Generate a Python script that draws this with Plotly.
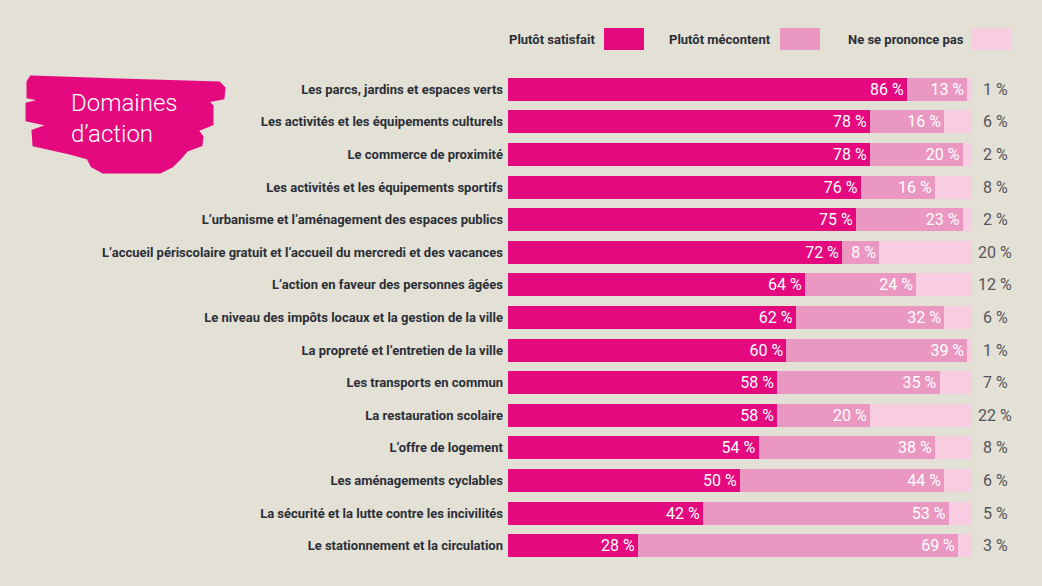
import plotly.graph_objects as go

categories = [
    "Les parcs, jardins et espaces verts",
    "Les activités et les équipements culturels",
    "Le commerce de proximité",
    "Les activités et les équipements sportifs",
    "L’urbanisme et l’aménagement des espaces publics",
    "L’accueil périscolaire gratuit et l’accueil du mercredi et des vacances",
    "L’action en faveur des personnes âgées",
    "Le niveau des impôts locaux et la gestion de la ville",
    "La propreté et l’entretien de la ville",
    "Les transports en commun",
    "La restauration scolaire",
    "L’offre de logement",
    "Les aménagements cyclables",
    "La sécurité et la lutte contre les incivilités",
    "Le stationnement et la circulation",
]
satisfait = [86, 78, 78, 76, 75, 72, 64, 62, 60, 58, 58, 54, 50, 42, 28]
mecontent = [13, 16, 20, 16, 23, 8, 24, 32, 39, 35, 20, 38, 44, 53, 69]
ne_se_prononce = [1, 6, 2, 8, 2, 20, 12, 6, 1, 7, 22, 8, 6, 5, 3]
series_names = ["Plutôt satisfait", "Plutôt mécontent", "Ne se prononce pas"]
title_lines = ["Domaines", "d’action"]
colors = ["#E5097F", "#EA98C2", "#F8CDE2"]

BG = "#E3E0D5"
FONT = "Roboto, Liberation Sans, sans-serif"
W, H = 1042, 586
ML, MR, MT, MB = 508, 70, 73, 24

fig = go.Figure()
for name, vals, col, show_text in zip(series_names, [satisfait, mecontent, ne_se_prononce], colors, [True, True, False]):
    fig.add_trace(go.Bar(
        y=categories, x=vals, name=name, orientation="h",
        marker=dict(color=col, line=dict(width=0)),
        width=0.7,
        text=[f"{v} %" for v in vals] if show_text else None,
        textposition="inside" if show_text else "none",
        insidetextanchor="end",
        textfont=dict(color="white", size=16, family=FONT),
        hoverinfo="x+y",
    ))

plot_w = W - ML - MR
plot_h = H - MT - MB
def px_x(p):
    return (p - ML) / plot_w
def px_y(p):
    return (H - MB - p) / plot_h

annotations = []
for cat, v in zip(categories, ne_se_prononce):
    annotations.append(dict(x=px_x(995), y=cat, xref="paper", yref="y", text=f"{v} %", showarrow=False,
                            xanchor="center", font=dict(size=16, color="#555559", family=FONT)))

# Legend (text before swatch)
legend_items = [(597, 604), (773, 780), (966, 971)]
shapes = []
for (text_end, sw_start), name, col in zip(legend_items, series_names, colors):
    annotations.append(dict(x=px_x(text_end), y=px_y(39), xref="paper", yref="paper", text=f"<b>{name}</b>",
                            showarrow=False, xanchor="right", yanchor="middle",
                            font=dict(size=13, color="#2B2F37", family=FONT)))
    shapes.append(dict(type="rect", xref="paper", yref="paper",
                       x0=px_x(sw_start), x1=px_x(sw_start + 40), y0=px_y(28), y1=px_y(50),
                       fillcolor=col, line=dict(width=0), layer="above"))

# Brush-stroke title blob
blob = [(31, 77), (120, 80), (219, 83), (224, 88), (223, 98), (207, 101), (212, 106), (212, 124),
        (197, 130), (202, 137), (201, 145), (187, 150), (180, 158), (172, 166), (160, 172),
        (103, 172), (92, 166), (88, 158), (70, 153), (34, 145), (33, 131), (50, 125), (27, 120),
        (27, 104), (43, 100), (28, 97), (28, 82)]
path = "M " + " L ".join(f"{px_x(a):.4f},{px_y(b):.4f}" for a, b in blob) + " Z"
shapes.append(dict(type="path", xref="paper", yref="paper", path=path,
                   fillcolor="#E5097F", line=dict(color="#E5097F", width=3), layer="above"))
for line, yy in zip(title_lines, [103, 134]):
    annotations.append(dict(x=px_x(69), y=px_y(yy), xref="paper", yref="paper",
                            text=line, showarrow=False, xanchor="left", yanchor="middle",
                            font=dict(size=24, color="white", family=FONT, weight=300)))

fig.update_layout(
    width=W, height=H, barmode="stack",
    paper_bgcolor=BG, plot_bgcolor=BG,
    margin=dict(l=ML, r=MR, t=MT, b=MB, autoexpand=False),
    showlegend=False,
    bargap=0.3,
    uniformtext=dict(minsize=16, mode="show"),
    xaxis=dict(range=[0, 100], visible=False, fixedrange=True),
    yaxis=dict(autorange="reversed", showgrid=False, zeroline=False, showline=False, ticks="",
               tickfont=dict(size=13, color="#2B2F37", family=FONT, weight="bold"),
               ticklabelstandoff=4, fixedrange=True),
    annotations=annotations,
    shapes=shapes,
)

fig.write_html("out.html", config={"displayModeBar": False},
               post_script="document.body.style.margin='0';document.body.style.background='%s';" % BG)
